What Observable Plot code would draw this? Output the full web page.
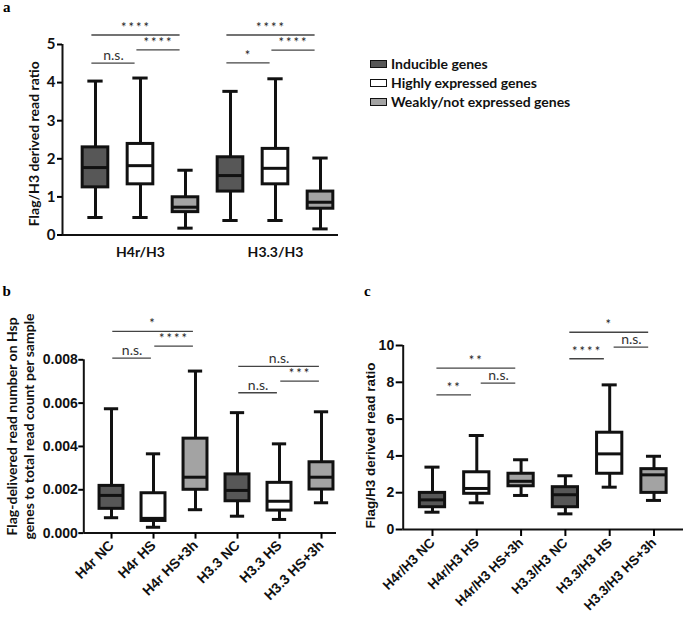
<!DOCTYPE html>
<html><head><meta charset="utf-8">
<script src="https://cdn.jsdelivr.net/npm/d3@7"></script>
<script src="https://cdn.jsdelivr.net/npm/@observablehq/plot@0.6"></script>
<style>
body{margin:0;background:#fff;}
#fig{position:relative;width:685px;height:617px;overflow:hidden;background:#fff;}
.panel{position:absolute;}
.letter{position:absolute;font-family:"Liberation Serif","DejaVu Serif",serif;font-weight:bold;font-size:15px;line-height:15px;color:#000;}
#legend{position:absolute;left:370px;top:54px;font-family:Lato,sans-serif;font-weight:bold;font-size:14px;color:#111;}
.row{display:flex;align-items:center;height:19.2px;white-space:nowrap;}
.sw{width:15px;height:6px;border:1.5px solid #111;margin-right:4px;}
</style></head>
<body><div id="fig"></div>
<script>
// ---------- data ----------
const typesA = ["Inducible genes", "Highly expressed genes", "Weakly/not expressed genes"];
const groupsA = ["H4r/H3", "H3.3/H3"];
const fills = ["#575757", "#ffffff", "#a3a3a3"];

// panel a: box stats per (group, type)
const aLow  = [0.46, 0.46, 0.18, 0.38, 0.38, 0.16];
const aQ1   = [1.25, 1.33, 0.60, 1.14, 1.33, 0.69];
const aMed  = [1.77, 1.82, 0.73, 1.56, 1.75, 0.86];
const aQ3   = [2.30, 2.39, 0.99, 2.04, 2.26, 1.14];
const aHigh = [4.04, 4.12, 1.70, 3.77, 4.10, 2.02];
const aTicks = [0, 1, 2, 3, 4, 5];
const compA = [[0,1,"n.s.",4.51],[1,2,"****",4.86],[0,2,"****",5.25],[3,4,"*",4.52],[4,5,"****",4.85],[3,5,"****",5.25]];

// panel b
const labelsB = ["H4r NC", "H4r HS", "H4r HS+3h", "H3.3 NC", "H3.3 HS", "H3.3 HS+3h"];
const bLow  = [0.00071, 0.00027, 0.00108, 0.00078, 0.00063, 0.00140];
const bQ1   = [0.00112, 0.00056, 0.00200, 0.00147, 0.00104, 0.00201];
const bMed  = [0.00174, 0.00068, 0.00258, 0.00197, 0.00147, 0.00258];
const bQ3   = [0.00218, 0.00184, 0.00436, 0.00271, 0.00232, 0.00327];
const bHigh = [0.00574, 0.00366, 0.00748, 0.00556, 0.00412, 0.00560];
const bTicks = [0, 0.002, 0.004, 0.006, 0.008];
const compB = [[0,1,"n.s.",0.00808],[1,2,"****",0.00863],[0,2,"*",0.00931],[3,4,"n.s.",0.00648],[4,5,"***",0.00702],[3,5,"n.s.",0.0077]];

// panel c
const labelsC = ["H4r/H3 NC", "H4r/H3 HS", "H4r/H3 HS+3h", "H3.3/H3 NC", "H3.3/H3 HS", "H3.3/H3 HS+3h"];
const cLow  = [0.94, 1.45, 1.85, 0.85, 2.30, 1.58];
const cQ1   = [1.21, 1.94, 2.35, 1.21, 3.03, 1.99];
const cMed  = [1.61, 2.23, 2.62, 1.89, 4.11, 2.97];
const cQ3   = [1.99, 3.11, 3.03, 2.30, 5.26, 3.28];
const cHigh = [3.39, 5.11, 3.79, 2.92, 7.86, 3.98];
const cTicks = [0, 2, 4, 6, 8, 10];
const compC = [[0,1,"**",7.32],[1,2,"n.s.",7.95],[0,2,"**",8.77],[3,4,"****",9.28],[4,5,"n.s.",9.91],[3,5,"*",10.72]];

// ---------- helpers ----------
const rowsOf = (low, q1, med, q3, high) =>
  low.map((d, i) => ({i, low: d, q1: q1[i], med: med[i], q3: q3[i], high: high[i], fill: fills[i % 3]}));

const LATO = "Lato, 'Open Sans', sans-serif";
const ARIAL = "Arial, 'Liberation Sans', sans-serif";

function panel(o) {
  const hw = 0.285, cap = 0.17;
  const marks = [
    Plot.ruleX(o.rows, {x: "i", y1: "low", y2: "high", stroke: "#111", strokeWidth: 3}),
    Plot.ruleY(o.rows, {y: "low", x1: d => d.i - cap, x2: d => d.i + cap, stroke: "#111", strokeWidth: 3}),
    Plot.ruleY(o.rows, {y: "high", x1: d => d.i - cap, x2: d => d.i + cap, stroke: "#111", strokeWidth: 3}),
    Plot.rect(o.rows, {x1: d => d.i - hw, x2: d => d.i + hw, y1: "q1", y2: "q3", fill: "fill", stroke: "#111", strokeWidth: 3}),
    Plot.ruleY(o.rows, {y: "med", x1: d => d.i - hw, x2: d => d.i + hw, stroke: "#111", strokeWidth: 3}),
    Plot.ruleY([o.yDomain[0]], {stroke: "#111", strokeWidth: 2}),
    Plot.ruleX([o.xDomain[0]], {stroke: "#111", strokeWidth: 2}),
    Plot.ruleY(o.comps, {y: d => d[3], x1: d => d[0] + o.off[0], x2: d => d[1] + o.off[1], stroke: "#444", strokeWidth: 1.3}),
    Plot.text(o.comps, {x: d => (d[0] + o.off[0] + d[1] + o.off[1]) / 2, y: d => d[3], text: d => d[2],
      lineAnchor: "bottom", dy: -3, fontSize: 14, fill: "#333", fontFamily: LATO}),
    Plot.axisY({ticks: o.yTicks, tickFormat: o.yFormat, tickSize: o.yTickSize, tickPadding: o.yTickPadding,
      strokeWidth: 2, fontSize: o.yFont, fontWeight: "bold", fontFamily: o.yFamily, label: null, fill: "#111"}),
    Plot.axisX(o.xAxis),
    Plot.text([o.yLabel], {frameAnchor: "left", rotate: -90, dx: o.labelDx, dy: o.labelDy, textAnchor: "middle",
      lineAnchor: "middle", lineHeight: 1.2, fontSize: o.labelFont, fontWeight: "bold", fontFamily: o.labelFamily, fill: "#111"})
  ];
  const svg = Plot.plot({
    width: o.width, height: o.height,
    marginLeft: o.margins[0], marginTop: o.margins[1], marginRight: o.margins[2], marginBottom: o.margins[3],
    x: {type: "linear", domain: o.xDomain},
    y: {domain: o.yDomain},
    color: {type: "identity"},
    style: {background: "transparent", overflow: "visible"},
    marks
  });
  d3.select(svg).selectAll("text").filter(function() { return /^\*+$/.test(this.textContent); })
    .style("letter-spacing", "2px").attr("font-size", 13).attr("fill", "#222");
  svg.classList.add("panel");
  svg.style.left = o.left + "px";
  svg.style.top = o.top + "px";
  return svg;
}

const fig = document.getElementById("fig");

// panel a
const groupPos = groupsA.map((g, k) => k * 3 + 1);
fig.appendChild(panel({
  left: 0, top: 0, width: 345, height: 268, margins: [62, 44, 7, 33.5],
  rows: rowsOf(aLow, aQ1, aMed, aQ3, aHigh), comps: compA, off: [-0.08, -0.12],
  xDomain: [-0.733, 5.4], yDomain: [0, 5], yTicks: aTicks, yFormat: d3.format("d"),
  yTickSize: 5, yTickPadding: 2, yFont: 15, yFamily: LATO,
  xAxis: {ticks: groupPos, tickFormat: v => groupsA[groupPos.indexOf(v)], tickSize: 0, tickPadding: 12,
    fontSize: 14, fontWeight: "bold", fontFamily: LATO, label: null, fill: "#111"},
  yLabel: "Flag/H3 derived read ratio", labelDx: -29, labelDy: 4, labelFont: 14, labelFamily: LATO
}));

// panel b
const idx = labelsB.map((d, i) => i);
fig.appendChild(panel({
  left: 0, top: 270, width: 345, height: 347, margins: [83.3, 89.3, 9, 84.4],
  rows: rowsOf(bLow, bQ1, bMed, bQ3, bHigh), comps: compB, off: [0.03, -0.05],
  xDomain: [-0.66, 5.357], yDomain: [0, 0.008], yTicks: bTicks, yFormat: d3.format(".3f"),
  yTickSize: 5, yTickPadding: 1, yFont: 14, yFamily: ARIAL,
  xAxis: {ticks: idx, tickFormat: v => labelsB[v], tickSize: 6, tickRotate: -45, strokeWidth: 2, tickPadding: 4,
    fontSize: 14, fontWeight: "bold", fontFamily: ARIAL, label: null, fill: "#111"},
  yLabel: "Flag-delivered read number on Hsp\ngenes to total read count per sample", labelDx: -64, labelDy: -20,
  labelFont: 14, labelFamily: LATO
}));

// panel c
fig.appendChild(panel({
  left: 345, top: 270, width: 340, height: 347, margins: [57.7, 75, 2, 88],
  rows: rowsOf(cLow, cQ1, cMed, cQ3, cHigh), comps: compC, off: [0.1, -0.12],
  xDomain: [-0.661, 5.666], yDomain: [0, 10], yTicks: cTicks, yFormat: d3.format("d"),
  yTickSize: 7, yTickPadding: 2, yFont: 14, yFamily: ARIAL,
  xAxis: {ticks: idx, tickFormat: v => labelsC[v], tickSize: 7, tickRotate: -45, strokeWidth: 2, tickPadding: 4,
    fontSize: 13.5, fontWeight: "bold", fontFamily: ARIAL, label: null, fill: "#111"},
  yLabel: "Flag/H3 derived read ratio", labelDx: -33.7, labelDy: 8, labelFont: 13.5, labelFamily: ARIAL
}));

// legend
const leg = document.createElement("div");
leg.id = "legend";
typesA.forEach((t, k) => {
  const r = document.createElement("div"); r.className = "row";
  const s = document.createElement("div"); s.className = "sw"; s.style.background = fills[k];
  const l = document.createElement("span"); l.textContent = t;
  r.appendChild(s); r.appendChild(l); leg.appendChild(r);
});
fig.appendChild(leg);

// panel letters
[["a", 3, 0], ["b", 2.5, 284], ["c", 364, 284]].forEach(([t, x, y]) => {
  const d = document.createElement("div"); d.className = "letter"; d.textContent = t;
  d.style.left = x + "px"; d.style.top = y + "px"; fig.appendChild(d);
});
</script></body></html>
